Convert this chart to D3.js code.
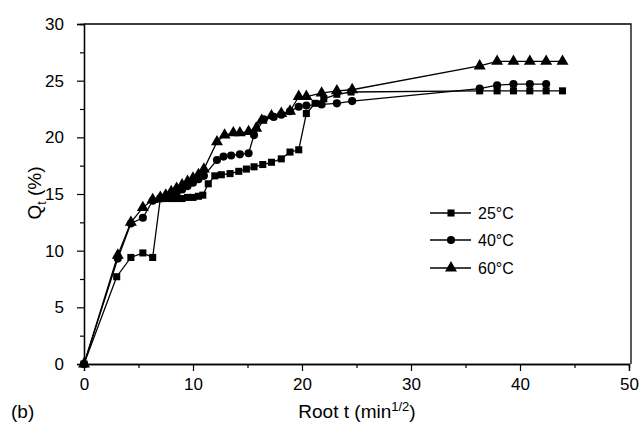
<!DOCTYPE html>
<html>
<head>
<meta charset="utf-8">
<title>Qt vs root t</title>
<script src="https://d3js.org/d3.v7.min.js"></script>
<style>
  body { margin: 0; background: #fff; }
  text { font-family: "Liberation Sans", Arial, sans-serif; fill: #000; }
</style>
</head>
<body>
<svg id="chart" width="639" height="424"></svg>
<script>
// series
var x25 = [0, 3.0, 4.3, 5.4, 6.3, 7.0, 7.5, 8.0, 8.5, 9.0, 9.5, 10.0, 10.5, 10.9, 11.4, 12.0, 12.6, 13.4, 14.2, 14.9, 15.6, 16.4, 17.2, 18.1, 18.9, 19.7, 20.4, 21.2, 22.0, 23.2, 24.5, 36.3, 37.9, 39.4, 40.9, 42.4, 43.9];
var y25 = [0, 7.7, 9.4, 9.8, 9.4, 14.6, 14.6, 14.6, 14.6, 14.6, 14.7, 14.7, 14.8, 14.9, 15.9, 16.6, 16.7, 16.8, 17.0, 17.2, 17.4, 17.6, 17.8, 18.1, 18.7, 18.9, 22.1, 23.0, 23.4, 23.8, 24.0, 24.1, 24.1, 24.1, 24.1, 24.1, 24.1];

var x40 = [0, 3.1, 4.3, 5.4, 6.3, 7.0, 7.5, 8.0, 8.5, 9.0, 9.5, 10.0, 10.5, 11.0, 12.2, 12.8, 13.5, 14.3, 15.1, 15.6, 16.5, 17.4, 18.1, 18.9, 19.7, 20.4, 21.8, 23.2, 24.6, 36.3, 37.9, 39.4, 40.9, 42.4];
var y40 = [0, 9.3, 12.4, 12.9, 14.4, 14.6, 14.7, 14.9, 15.1, 15.4, 15.7, 16.0, 16.3, 16.6, 18.0, 18.3, 18.4, 18.5, 18.6, 20.2, 21.6, 21.8, 22.0, 22.3, 22.7, 22.8, 22.9, 23.0, 23.2, 24.3, 24.6, 24.7, 24.7, 24.7];

var x60 = [0, 3.1, 4.3, 5.4, 6.3, 7.0, 7.5, 8.0, 8.5, 9.0, 9.5, 10.0, 10.5, 11.0, 12.2, 12.9, 13.7, 14.3, 15.1, 15.8, 16.3, 17.2, 18.1, 18.9, 19.7, 20.4, 21.8, 23.2, 24.6, 36.3, 37.9, 39.4, 40.9, 42.4, 43.9];
var y60 = [0, 9.6, 12.5, 13.8, 14.5, 14.7, 14.9, 15.2, 15.5, 15.8, 16.1, 16.4, 16.7, 17.2, 19.6, 20.2, 20.4, 20.4, 20.5, 20.8, 21.5, 21.9, 22.1, 22.3, 23.6, 23.6, 23.9, 24.1, 24.2, 26.3, 26.7, 26.7, 26.7, 26.7, 26.7];

var seriesNames = ["25°C", "40°C", "60°C"];
var xTicks = [0, 10, 20, 30, 40, 50];
var yTicks = [0, 5, 10, 15, 20, 25, 30];

var series = [
  { name: seriesNames[0], shape: d3.symbolSquare, size: 50, pts: d3.zip(x25, y25) },
  { name: seriesNames[1], shape: d3.symbolCircle, size: 52, pts: d3.zip(x40, y40) },
  { name: seriesNames[2], shape: d3.symbolTriangle, size: 62, pts: d3.zip(x60, y60) }
];

var svg = d3.select("#chart");
var mLeft = 84, mRight = 629, mTop = 24, mBottom = 364;

var x = d3.scaleLinear().domain([0, 50]).range([mLeft, mRight]);
var y = d3.scaleLinear().domain([0, 30]).range([mBottom, mTop]);

// frame (top and right)
svg.append("path")
  .attr("d", "M" + mLeft + "," + mTop + "H631V" + mBottom)
  .attr("fill", "none").attr("stroke", "#000").attr("stroke-width", 1.3);

// axes: minor ticks first, then major with labels
var gx = svg.append("g").attr("transform", "translate(0," + mBottom + ")");
gx.call(d3.axisBottom(x).tickValues(d3.range(5, 50, 10)).tickSize(4).tickFormat(""));
gx.append("g").call(d3.axisBottom(x).tickValues(xTicks).tickSize(7).tickPadding(7).tickFormat(d3.format("d")));
var gy = svg.append("g").attr("transform", "translate(" + mLeft + ",0)");
gy.call(d3.axisLeft(y).tickValues(d3.range(2.5, 30, 5)).tickSize(4).tickFormat(""));
gy.append("g").call(d3.axisLeft(y).tickValues(yTicks).tickSize(7).tickPadding(13).tickFormat(d3.format("d")));

svg.selectAll(".domain").attr("stroke", "#000").attr("stroke-width", 1.3);
svg.selectAll(".tick line").attr("stroke", "#000").attr("stroke-width", 1.2);
svg.selectAll(".tick text")
  .style("font-size", "17px")
  .style("font-family", "Liberation Sans, Arial, sans-serif")
  .attr("fill", "#000");

// lines and markers
var line = d3.line().x(function(d) { return x(d[0]); }).y(function(d) { return y(d[1]); });
series.forEach(function(s) {
  svg.append("path").attr("d", line(s.pts))
    .attr("fill", "none").attr("stroke", "#000").attr("stroke-width", 1.3);
  svg.append("g").selectAll("path").data(s.pts).join("path")
    .attr("transform", function(d) { return "translate(" + x(d[0]) + "," + y(d[1]) + ")"; })
    .attr("d", d3.symbol().type(s.shape).size(s.size))
    .attr("fill", "#000");
});

// legend
var legendY = [213, 240, 268];
series.forEach(function(s, i) {
  var g = svg.append("g").attr("transform", "translate(0," + legendY[i] + ")");
  g.append("line").attr("x1", 430).attr("x2", 471).attr("stroke", "#000").attr("stroke-width", 1.3);
  g.append("path").attr("transform", "translate(451,0)")
    .attr("d", d3.symbol().type(s.shape).size(s.size)).attr("fill", "#000");
  g.append("text").attr("x", 478).attr("y", 6).style("font-size", "16px").text(s.name);
});

// axis titles
var xt = svg.append("text").attr("x", 357).attr("y", 418).attr("text-anchor", "middle").style("font-size", "19px");
xt.append("tspan").text("Root t (min");
xt.append("tspan").style("font-size", "13px").attr("dy", -7).text("1/2");
xt.append("tspan").attr("dy", 7).text(")");

svg.append("text").attr("x", 11).attr("y", 418).style("font-size", "19px").text("(b)");

var yt = svg.append("text").attr("transform", "translate(41,193) rotate(-90)").attr("text-anchor", "middle").style("font-size", "19px");
yt.append("tspan").text("Q");
yt.append("tspan").style("font-size", "12px").attr("dy", 5).text("t");
yt.append("tspan").attr("dy", -5).text("\u00a0(%)");
</script>
</body>
</html>
